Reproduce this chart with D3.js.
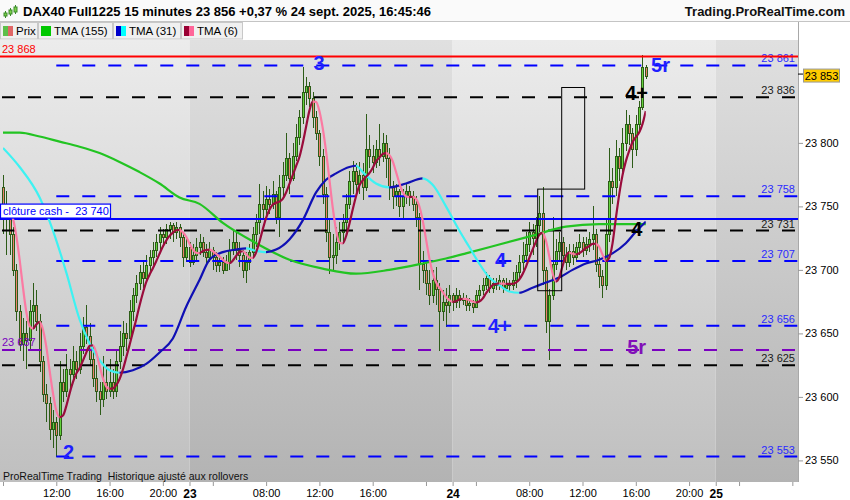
<!DOCTYPE html>
<html>
<head>
<meta charset="utf-8">
<script src="https://cdn.jsdelivr.net/npm/d3@7"></script>
<style>
  body { margin: 0; background: #fff; }
  svg { display: block; font-family: "Liberation Sans", Arial, sans-serif; }
</style>
</head>
<body>
<svg id="chart"></svg>
<script>
// 15-minute bars, index 0 = 22 sept 08:00 ... 193 = 24 sept 16:45
const firstOpen = 23765;
const closes = [
  23752, 23740, 23728, 23700, 23668, 23642, 23650, 23645, 23668, 23672,
  23660, 23628, 23602, 23595, 23575, 23580, 23570, 23612, 23605, 23622,
  23618, 23628, 23622, 23640, 23655, 23648, 23630, 23615, 23605, 23598,
  23612, 23605, 23612, 23605, 23628, 23640, 23650, 23646, 23668, 23680,
  23690, 23698, 23694, 23704, 23710, 23716, 23722, 23728, 23726, 23732,
  23735, 23730, 23734, 23726, 23710, 23718,
  23706, 23712, 23718, 23722, 23714, 23710, 23716, 23710, 23704, 23706,
  23700, 23706, 23716, 23722, 23716, 23712, 23700, 23706, 23714, 23728,
  23738, 23752, 23748, 23756, 23752, 23760, 23742, 23765, 23775, 23788,
  23772, 23790, 23805, 23820, 23840, 23845, 23835, 23820, 23808, 23790,
  23760, 23730, 23710, 23712, 23722, 23730, 23738, 23752, 23770, 23778,
  23768, 23775, 23765, 23795, 23790, 23785, 23795, 23790, 23800, 23788,
  23765, 23758, 23762, 23750, 23758, 23762, 23758, 23752, 23742, 23705,
  23700, 23690, 23680, 23692, 23685, 23668, 23675, 23672, 23680,
  23675, 23680, 23676, 23678, 23672, 23674, 23671, 23680, 23684, 23688,
  23694, 23686, 23690, 23688, 23692, 23686, 23690, 23688, 23692, 23698,
  23706, 23712, 23720, 23730, 23725, 23735, 23745, 23700, 23660, 23680,
  23705, 23715, 23722, 23712, 23706, 23715, 23710, 23718, 23722, 23716,
  23720, 23724, 23728, 23705, 23695, 23688, 23728, 23770, 23765, 23790,
  23780, 23800, 23815, 23808, 23795, 23815, 23828, 23860, 23853
];
const highs = [
  23775, 23762, 23748, 23734, 23705, 23672, 23662, 23660, 23676, 23690,
  23684, 23665, 23632, 23610, 23600, 23590, 23584, 23628, 23622, 23634,
  23630, 23640, 23636, 23650, 23663, 23672, 23658, 23640, 23625, 23612,
  23632, 23625, 23630, 23622, 23636, 23652, 23660, 23658, 23676, 23686,
  23696, 23704, 23706, 23712, 23716, 23722, 23728, 23734, 23732, 23736,
  23738, 23737, 23738, 23736, 23730, 23724,
  23722, 23720, 23725, 23728, 23726, 23720, 23722, 23718, 23714, 23712,
  23710, 23712, 23724, 23732, 23730, 23722, 23716, 23714, 23720, 23734,
  23744, 23768, 23762, 23766, 23764, 23770, 23762, 23775, 23785, 23808,
  23792, 23800, 23815, 23826, 23860, 23852, 23848, 23840, 23825, 23810,
  23795, 23765, 23740, 23728, 23734, 23738, 23744, 23760, 23778, 23786,
  23784, 23785, 23784, 23823, 23806, 23798, 23802, 23815, 23808, 23806,
  23796, 23770, 23768, 23764, 23764, 23768, 23766, 23762, 23758, 23745,
  23715, 23706, 23700, 23700, 23702, 23690, 23684, 23686, 23688,
  23682, 23686, 23684, 23682, 23680, 23678, 23676, 23684, 23688, 23694,
  23698, 23696, 23694, 23694, 23696, 23694, 23694, 23692, 23698, 23704,
  23712, 23722, 23730, 23738, 23736, 23742, 23758, 23765, 23702, 23685,
  23742, 23724, 23730, 23726, 23718, 23720, 23720, 23722, 23728, 23726,
  23726, 23730, 23750, 23732, 23710, 23700, 23740, 23796, 23780, 23802,
  23796, 23812, 23826, 23822, 23812, 23822, 23833, 23869, 23861
];
const lows = [
  23728, 23712, 23712, 23695, 23660, 23636, 23628, 23622, 23638, 23655,
  23652, 23620, 23596, 23580, 23566, 23560, 23553, 23566, 23596, 23600,
  23606, 23612, 23614, 23618, 23634, 23642, 23624, 23608, 23596, 23586,
  23592, 23598, 23600, 23598, 23600, 23622, 23632, 23636, 23642, 23660,
  23674, 23684, 23686, 23690, 23698, 23704, 23710, 23716, 23718, 23720,
  23724, 23722, 23724, 23718, 23702, 23706,
  23702, 23704, 23708, 23712, 23710, 23704, 23706, 23700, 23698, 23698,
  23697, 23700, 23700, 23712, 23708, 23702, 23694, 23690, 23700, 23710,
  23718, 23728, 23740, 23742, 23744, 23748, 23736, 23726, 23758, 23770,
  23760, 23770, 23786, 23798, 23815, 23830, 23828, 23812, 23802, 23782,
  23752, 23722, 23697, 23698, 23705, 23716, 23722, 23730, 23748, 23760,
  23760, 23760, 23755, 23762, 23780, 23776, 23780, 23782, 23785, 23772,
  23755, 23748, 23750, 23742, 23740, 23752, 23750, 23746, 23734, 23684,
  23690, 23680, 23672, 23674, 23672, 23636, 23660, 23655, 23666,
  23668, 23670, 23670, 23672, 23668, 23668, 23666, 23670, 23676, 23680,
  23684, 23682, 23682, 23684, 23684, 23682, 23684, 23683, 23684, 23686,
  23694, 23700, 23708, 23714, 23712, 23718, 23730, 23688, 23650, 23629,
  23676, 23700, 23706, 23704, 23700, 23702, 23704, 23706, 23712, 23710,
  23712, 23714, 23716, 23698, 23686, 23678, 23684, 23722, 23752, 23758,
  23770, 23772, 23794, 23798, 23780, 23790, 23810, 23826, 23850
];

// long moving averages: [bar, value]
const tma155 = [
  [0, 23808], [5, 23808], [11, 23805], [17, 23801], [23, 23797], [29, 23792],
  [35, 23785], [41, 23777], [47, 23768], [53, 23757], [59, 23752], [66, 23737],
  [76, 23721], [86, 23708], [96, 23701], [106, 23697], [116, 23700], [126, 23705],
  [133, 23709], [139, 23713], [149, 23720], [159, 23727], [169, 23734], [179, 23736],
  [189, 23736], [193, 23736]
];
const tma31 = [
  [0, 23796], [5, 23781], [11, 23757], [15, 23731], [19, 23698], [23, 23661],
  [26, 23642], [29, 23629], [32, 23621], [35, 23619], [39, 23621], [43, 23626],
  [47, 23635], [51, 23646], [55, 23671], [59, 23692], [62, 23708], [66, 23714],
  [70, 23716], [73, 23717], [76, 23715], [79, 23714], [82, 23716], [86, 23724],
  [90, 23739], [94, 23761], [97, 23771], [100, 23776], [104, 23781], [106, 23782],
  [108, 23777], [112, 23768], [116, 23765], [121, 23768], [126, 23772], [129, 23767],
  [133, 23750], [137, 23731], [140, 23718], [143, 23705], [146, 23694], [149, 23688],
  [152, 23683], [155, 23682], [159, 23686], [163, 23690], [167, 23694], [171, 23700],
  [175, 23705], [179, 23708], [183, 23713], [187, 23721], [190, 23730], [193, 23738]
];

const redLevel = 23868;
const cashLevel = 23740;
const purpleLevel = 23637;
const blueLevels = [23861, 23758, 23707, 23656, 23553];
const blackLevels = [23836, 23731, 23625];
const blueStartBar = 16;
const lastPrice = 23853;

const priceTicks = [23550, 23600, 23650, 23700, 23750, 23800];
const timeTickBars = [0, 16, 32, 48, 56, 63, 79, 95, 111, 127, 135, 142, 158, 174, 190, 206, 214, 221, 237];
const timeTickLabels = ['', '12:00', '16:00', '20:00', '23', '', '08:00', '12:00', '16:00', '', '24', '', '08:00', '12:00', '16:00', '20:00', '25', '', ''];

// wave counts: [text, bar, price]
const blueWaves = [['3', 93.2, 23857], ['2', 18, 23551], ['4', 147.7, 23702], ['4+', 145.6, 23650], ['5r', 194.6, 23856]];
const blackWaves = [['4+', 186.8, 23834], ['4', 188.6, 23727]];
const purpleWaves = [['5r', 187.4, 23634]];

// boxes: [bar0, bar1, price0, price1]
const boxes = [[160.4, 167.6, 23684, 23764], [167.6, 174.5, 23764, 23844]];

let width = 850;
let height = 500;
let plotRight = 798, plotTop = 40, plotBottom = 482;

let svg = d3.select('#chart')
    .attr('width', width)
    .attr('height', height);

let fmt = d3.formatLocale({ decimal: ',', thousands: ' ', grouping: [3], currency: ['', ''] }).format(',d');

let x = d3.scaleLinear().domain([0, 238.7]).range([3, plotRight]);
let y = d3.scaleLinear().domain([23533, 23881]).range([plotBottom, plotTop]);

let defs = svg.append('defs');
function grad(id, top, bottom) {
    let g = defs.append('linearGradient').attr('id', id)
        .attr('gradientUnits', 'userSpaceOnUse')
        .attr('x1', 0).attr('x2', 0).attr('y1', plotTop).attr('y2', plotBottom);
    g.append('stop').attr('offset', 0).attr('stop-color', top);
    g.append('stop').attr('offset', 1).attr('stop-color', bottom);
}
grad('bgLight', '#ececec', '#bfbfbf');
grad('bgDark', '#e0e0e0', '#b3b3b3');
grad('hdr', '#fafafa', '#ececec');

defs.append('clipPath').attr('id', 'plotClip')
    .append('rect').attr('x', 0).attr('y', plotTop).attr('width', plotRight).attr('height', plotBottom - plotTop);

// header
svg.append('rect').attr('x', 0).attr('y', 0).attr('width', width).attr('height', 21).attr('fill', 'url(#hdr)');
svg.append('line').attr('x1', 0).attr('x2', width).attr('y1', 21.5).attr('y2', 21.5).attr('stroke', '#c4c4c4');
let icon = svg.append('g').attr('stroke', '#3a8a2a').attr('stroke-width', 1);
[[5.5, 11, 16], [10.5, 8, 14], [15.5, 5, 12]].forEach(([cx, t, b]) => {
    icon.append('line').attr('x1', cx).attr('x2', cx).attr('y1', t).attr('y2', b + 2);
    icon.append('rect').attr('x', cx - 1.5).attr('y', t + 2).attr('width', 3).attr('height', b - t - 2).attr('fill', '#7cd04a');
});
svg.append('text').attr('x', 23).attr('y', 15.5)
    .attr('font-size', 13).attr('font-weight', 'bold').attr('fill', '#000')
    .text('DAX40 Full1225 15 minutes 23 856 +0,37 % 24 sept. 2025, 16:45:46');
svg.append('text').attr('x', 845).attr('y', 15.5).attr('text-anchor', 'end')
    .attr('font-size', 13).attr('font-weight', 'bold').attr('fill', '#111')
    .text('Trading.ProRealTime.com');

// legend row
let legend = [
    { label: 'Prix', x0: 0, w: 37, sw: ['#5cbf4a', '#e06666'] },
    { label: 'TMA (155)', x0: 38, w: 74, sw: ['#00c800'] },
    { label: 'TMA (31)', x0: 113, w: 67, sw: ['#0000cc', '#00ffff'] },
    { label: 'TMA (6)', x0: 181, w: 61, sw: ['#990033', '#ff6699'] }
];
legend.forEach(d => {
    let g = svg.append('g');
    g.append('rect').attr('x', d.x0 + 0.5).attr('y', 22.5).attr('width', d.w).attr('height', 16.5)
        .attr('fill', '#f0f0f0').attr('stroke', '#c8c8c8');
    let sw = 10 / d.sw.length;
    d.sw.forEach((c, i) => {
        g.append('rect').attr('x', d.x0 + 3 + i * sw).attr('y', 26).attr('width', sw).attr('height', 10).attr('fill', c);
    });
    g.append('text').attr('x', d.x0 + 16).attr('y', 35).attr('font-size', 11.5).attr('fill', '#000').text(d.label);
});

// plot background with day bands
let dayBands = [[-5, 56, 'bgLight'], [56, 135, 'bgDark'], [135, 214, 'bgLight'], [214, 260, 'bgDark']];
svg.append('g').attr('clip-path', 'url(#plotClip)')
    .selectAll('rect').data(dayBands).enter().append('rect')
    .attr('x', d => Math.max(0, x(d[0])))
    .attr('width', d => x(d[1]) - Math.max(0, x(d[0])))
    .attr('y', plotTop).attr('height', plotBottom - plotTop)
    .attr('fill', d => `url(#${d[2]})`);

let plot = svg.append('g').attr('clip-path', 'url(#plotClip)');

// candles
let bars = closes.map((c, i) => ({ i, o: i ? closes[i - 1] : firstOpen, h: highs[i], l: lows[i], c }));
let candle = plot.append('g').selectAll('g').data(bars).enter().append('g');
candle.append('line')
    .attr('x1', d => Math.round(x(d.i)) + 0.5).attr('x2', d => Math.round(x(d.i)) + 0.5)
    .attr('y1', d => Math.round(y(d.h))).attr('y2', d => Math.round(y(d.l)))
    .attr('stroke', '#2d5c18').attr('stroke-width', 1);
candle.append('rect')
    .attr('x', d => Math.round(x(d.i)) - 0.5).attr('width', 2)
    .attr('y', d => Math.round(y(Math.max(d.o, d.c))) + 0.5)
    .attr('height', d => Math.max(1, Math.round(y(Math.min(d.o, d.c))) - Math.round(y(Math.max(d.o, d.c)))))
    .attr('fill', d => d.c >= d.o ? '#62d23c' : '#ec806c')
    .attr('stroke', '#2d5c18').attr('stroke-width', 1);

// horizontal levels
let levels = plot.append('g').attr('fill', 'none');
function hline(v, x0, color, dashed, w) {
    levels.append('line').attr('x1', x0).attr('x2', plotRight)
        .attr('y1', y(v)).attr('y2', y(v))
        .attr('stroke', color).attr('stroke-width', w || 2)
        .attr('stroke-dasharray', dashed ? '13 13' : null);
}
blackLevels.forEach(v => hline(v, 2, '#000', true));
hline(purpleLevel, 2, '#7a00c0', true);
blueLevels.forEach(v => hline(v, x(blueStartBar), '#0000ff', true));
hline(cashLevel, 0, '#0000ff', false);

// moving averages
let clipN = 0;
function trendLine(samples, upColor, downColor) {
    let line = d3.line().x(d => x(d[0])).y(d => y(d[1])).curve(d3.curveMonotoneX);
    let runs = [];
    for (let i = 0; i < samples.length - 1; i++) {
        let up = samples[i + 1][1] >= samples[i][1];
        let last = runs[runs.length - 1];
        if (last && last.up === up) last.end = samples[i + 1][0];
        else runs.push({ up, start: samples[i][0], end: samples[i + 1][0] });
    }
    runs.forEach(r => {
        let id = 'tc' + (clipN++);
        defs.append('clipPath').attr('id', id).append('rect')
            .attr('x', x(r.start)).attr('width', x(r.end) - x(r.start))
            .attr('y', plotTop).attr('height', plotBottom - plotTop);
        plot.append('path').datum(samples)
            .attr('clip-path', `url(#${id})`)
            .attr('d', line).attr('fill', 'none')
            .attr('stroke', r.up ? upColor : downColor)
            .attr('stroke-width', 2.2).attr('stroke-linejoin', 'round');
    });
}
plot.append('path').datum(tma155)
    .attr('d', d3.line().x(d => x(d[0])).y(d => y(d[1])).curve(d3.curveMonotoneX))
    .attr('fill', 'none').attr('stroke', '#22c422').attr('stroke-width', 2.2);
trendLine(tma31, '#1010b4', '#3ef2f2');

function sma(arr, n) {
    return arr.map((_, i) => d3.mean(arr.slice(Math.max(0, i - n + 1), i + 1)));
}
let tma6 = sma(sma(closes, 3), 4);
trendLine(tma6.map((v, i) => [i, v]), '#9a0c3c', '#fb7aa2');

// boxes
plot.append('g').selectAll('rect').data(boxes).enter().append('rect')
    .attr('x', d => x(d[0]) + 0.5).attr('width', d => x(d[1]) - x(d[0]))
    .attr('y', d => y(d[3]) + 0.5).attr('height', d => y(d[2]) - y(d[3]))
    .attr('fill', 'none').attr('stroke', '#000').attr('stroke-width', 1);

// level labels
let lab = svg.append('g').attr('font-size', 11);
blueLevels.forEach(v => lab.append('text').attr('x', 795).attr('y', y(v) - 3)
    .attr('text-anchor', 'end').attr('fill', '#2a2aff').text(fmt(v)));
blackLevels.forEach(v => lab.append('text').attr('x', 795).attr('y', y(v) - 3)
    .attr('text-anchor', 'end').attr('fill', '#1a1a1a').text(fmt(v)));
lab.append('text').attr('x', 2).attr('y', y(purpleLevel) - 4).attr('fill', '#7a00c0').text(fmt(purpleLevel));
lab.append('text').attr('x', 2).attr('y', y(redLevel) - 3.5).attr('fill', '#ff0000').text(fmt(redLevel));

// red top level drawn over its neighbours
svg.append('line').attr('x1', 0).attr('x2', plotRight).attr('y1', y(redLevel)).attr('y2', y(redLevel))
    .attr('stroke', '#ff0000').attr('stroke-width', 2);

// cash close tag
let cy = y(cashLevel);
svg.append('rect').attr('x', 0.5).attr('y', cy - 15).attr('width', 110).attr('height', 14)
    .attr('fill', '#fff').attr('stroke', '#0000ff').attr('stroke-width', 1.2);
svg.append('text').attr('x', 3).attr('y', cy - 4).attr('font-size', 11).attr('fill', '#0000ff')
    .style('white-space', 'pre').text('clôture cash -  ' + fmt(cashLevel));

// wave labels
function waves(list, color) {
    svg.append('g').selectAll('text').data(list).enter().append('text')
        .attr('x', d => x(d[1])).attr('y', d => y(d[2]))
        .attr('font-size', 20).attr('font-weight', 'bold').attr('fill', color)
        .text(d => d[0]);
}
waves(blueWaves, '#1f1fff');
waves(blackWaves, '#000');
waves(purpleWaves, '#8210b8');

// bottom note
svg.append('text').attr('x', 3).attr('y', 479.5).attr('font-size', 10.5).attr('fill', '#111')
    .text('ProRealTime Trading  Historique ajusté aux rollovers').style('white-space', 'pre');

// right price axis
svg.append('line').attr('x1', plotRight + 0.5).attr('x2', plotRight + 0.5)
    .attr('y1', 22).attr('y2', plotBottom).attr('stroke', '#a8a8a8');
let yAxis = svg.append('g').attr('transform', `translate(${plotRight},0)`)
    .call(d3.axisRight(y).tickValues(priceTicks).tickFormat(fmt).tickSize(5).tickPadding(2));
yAxis.select('.domain').remove();
yAxis.selectAll('line').attr('stroke', '#999');
yAxis.selectAll('text').attr('font-size', 11).attr('fill', '#000')
    .attr('font-family', '"Liberation Sans", Arial, sans-serif');

// current price tag
let py = y(lastPrice);
svg.append('line').attr('x1', plotRight).attr('x2', plotRight + 5).attr('y1', py - 1.5).attr('y2', py - 1.5).attr('stroke', '#000');
svg.append('rect').attr('x', 803.5).attr('y', py - 6.5).attr('width', 36).attr('height', 13)
    .attr('fill', '#ffcc00').attr('stroke', '#9a9a9a');
svg.append('text').attr('x', 821.5).attr('y', py + 4).attr('text-anchor', 'middle')
    .attr('font-size', 11).attr('fill', '#000').text(fmt(lastPrice));

// time axis
let xAxis = svg.append('g').attr('transform', `translate(0,${plotBottom})`)
    .call(d3.axisBottom(x).tickValues(timeTickBars).tickFormat((d, i) => timeTickLabels[i]).tickSize(4).tickPadding(3));
xAxis.select('.domain').remove();
xAxis.selectAll('line').attr('stroke', '#999');
xAxis.selectAll('text')
    .attr('font-family', '"Liberation Sans", Arial, sans-serif')
    .attr('fill', '#000')
    .attr('font-size', (d, i) => /^\d\d$/.test(timeTickLabels[i]) ? 12 : 11)
    .attr('font-weight', (d, i) => /^\d\d$/.test(timeTickLabels[i]) ? 'bold' : 'normal');
</script>
</body>
</html>
